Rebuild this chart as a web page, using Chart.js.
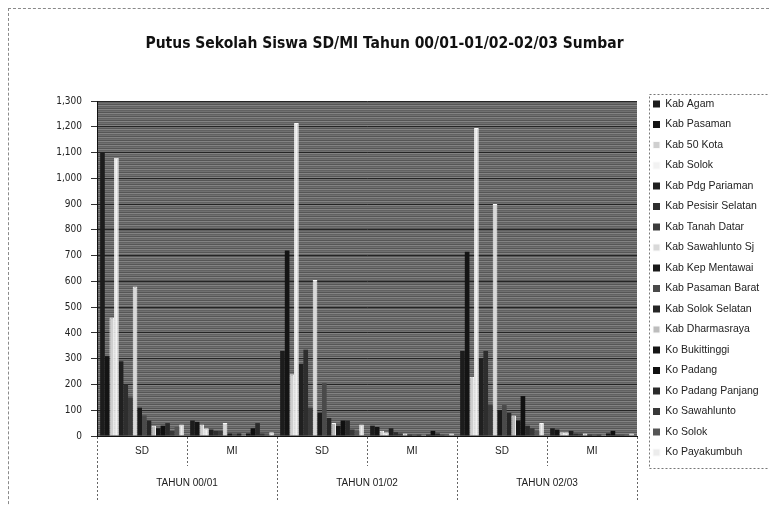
<!DOCTYPE html>
<html>
<head>
<meta charset="utf-8">
<script src="https://cdn.jsdelivr.net/npm/chart.js@4.4.1/dist/chart.umd.min.js"></script>
<style>
  html, body { margin: 0; padding: 0; background: #fff; overflow: hidden; }
  #wrap { position: relative; width: 769px; height: 505px; }
  #frame { position: absolute; left: 8px; top: 8px; width: 780px; height: 520px;
           border-left: 1px dashed #8a8a8a; border-top: 1px dashed #8a8a8a; pointer-events: none; }
  canvas { display: block; }
</style>
</head>
<body>
<div id="wrap">
  <canvas id="chart" width="769" height="505"></canvas>
  <div id="frame"></div>
</div>
<script>
// kategori sumbu x (jenjang) dan kelompok tahun
const categories = ['SD', 'MI', 'SD', 'MI', 'SD', 'MI'];
const yearLabels = ['TAHUN 00/01', 'TAHUN 01/02', 'TAHUN 02/03'];
const yTicks = [0, 100, 200, 300, 400, 500, 600, 700, 800, 900, 1000, 1100, 1200, 1300];

const seriesNames = [
    'Kab Agam', 'Kab Pasaman', 'Kab 50 Kota', 'Kab Solok', 'Kab Pdg Pariaman',
    'Kab Pesisir Selatan', 'Kab Tanah Datar', 'Kab Sawahlunto Sj', 'Kab Kep Mentawai',
    'Kab Pasaman Barat', 'Kab Solok Selatan', 'Kab Dharmasraya', 'Ko Bukittinggi',
    'Ko Padang', 'Ko Padang Panjang', 'Ko Sawahlunto', 'Ko Solok', 'Ko Payakumbuh'
];

// nilai per kategori: SD 00/01, MI 00/01, SD 01/02, MI 01/02, SD 02/03, MI 02/03
const kabAgam          = [1100, 60, 330, 40, 330, 30];
const kabPasaman       = [310, 55, 720, 35, 715, 25];
const kab50Kota        = [460, 45, 240, 20, 230, 15];
const kabSolok         = [1080, 30, 1215, 15, 1195, 15];
const kabPdgPariaman   = [290, 25, 280, 30, 300, 20];
const kabPesisirSel    = [200, 20, 335, 15, 330, 10];
const kabTanahDatar    = [150, 20, 110, 10, 120, 10];
const kabSawahluntoSj  = [580, 50, 605, 10, 900, 10];
const kabKepMentawai   = [110, 10, 90, 5, 100, 5];
const kabPasamanBarat  = [80, 10, 205, 5, 120, 5];
const kabSolokSelatan  = [60, 10, 70, 5, 90, 5];
const kabDharmasraya   = [40, 5, 50, 5, 80, 5];
const koBukittinggi    = [30, 10, 40, 5, 60, 10];
const koPadang         = [40, 30, 60, 20, 155, 20];
const koPadangPanjang  = [50, 50, 60, 10, 40, 5];
const koSawahlunto     = [20, 10, 25, 5, 30, 5];
const koSolok          = [35, 10, 20, 5, 20, 5];
const koPayakumbuh     = [45, 15, 45, 10, 50, 10];

const seriesValues = [
    kabAgam, kabPasaman, kab50Kota, kabSolok, kabPdgPariaman, kabPesisirSel,
    kabTanahDatar, kabSawahluntoSj, kabKepMentawai, kabPasamanBarat, kabSolokSelatan,
    kabDharmasraya, koBukittinggi, koPadang, koPadangPanjang, koSawahlunto, koSolok, koPayakumbuh
];

const seriesColors = [
    '#1c1c1c', '#141414', '#cfcfcf', '#f2f2f2', '#202020', '#2e2e2e',
    '#3c3c3c', '#d9d9d9', '#1a1a1a', '#4a4a4a', '#262626', '#bdbdbd',
    '#151515', '#101010', '#2a2a2a', '#383838', '#555555', '#ececec'
];
const lightSeries = [2, 3, 7, 11, 17];

const fontNarrow = "'Liberation Sans Narrow', 'Arial Narrow', 'DejaVu Sans Condensed', sans-serif";
const fontNormal = "'Liberation Sans', Arial, sans-serif";

function stripePattern(ctx) {
    const c = document.createElement('canvas');
    c.width = 4; c.height = 4;
    const p = c.getContext('2d');
    const rows = ['#565656', '#838383', '#626262', '#707070'];
    rows.forEach((col, i) => { p.fillStyle = col; p.fillRect(0, i, 4, 1); });
    return ctx.createPattern(c, 'repeat');
}

const plotBackground = {
    id: 'plotBackground',
    beforeDraw(chart) {
        const { ctx, chartArea: a } = chart;
        ctx.save();
        ctx.fillStyle = stripePattern(ctx);
        ctx.fillRect(a.left, a.top, a.right - a.left, a.bottom - a.top);
        ctx.restore();
    }
};

// lebar legenda tetap, sedikit digeser ke kanan, dengan bingkai putus-putus
const legendBox = {
    id: 'legendBox',
    afterInit(chart) {
        const legend = chart.legend;
        const fit = legend.fit;
        legend.fit = function () {
            fit.call(this);
            this.width = 132;
        };
    },
    afterLayout(chart) {
        chart.legend.left += 6;
        chart.legend.right += 6;
    },
    afterDraw(chart) {
        const { ctx, legend } = chart;
        ctx.save();
        ctx.strokeStyle = '#777';
        ctx.lineWidth = 1;
        ctx.setLineDash([2, 2]);
        ctx.strokeRect(Math.round(legend.left + 6) + 0.5, 94.5, 200, 374);
        ctx.restore();
    }
};

const datasets = seriesNames.map((name, i) => {
    const light = lightSeries.includes(i);
    return {
        label: name,
        data: seriesValues[i],
        backgroundColor: seriesColors[i],
        borderColor: light ? '#fafafa' : seriesColors[i],
        borderWidth: light ? 1 : 0,
        categoryPercentage: 0.93,
        barPercentage: 1.0
    };
});

new Chart(document.getElementById('chart'), {
    type: 'bar',
    data: { labels: categories, datasets: datasets },
    options: {
        responsive: false,
        animation: false,
        layout: { padding: 0 },
        plugins: {
            title: {
                display: true,
                text: 'Putus Sekolah Siswa SD/MI Tahun 00/01-01/02-02/03 Sumbar',
                color: '#111',
                font: { family: fontNarrow, size: 15.5, weight: 'bold', lineHeight: 1.2 },
                padding: { top: 34.7, bottom: 47.7 }
            },
            legend: {
                position: 'right',
                align: 'start',
                title: { display: true, text: '', font: { size: 10, lineHeight: 1 }, padding: { top: 0, bottom: 78.75 } },
                labels: {
                    boxWidth: 7,
                    boxHeight: 7,
                    padding: 10,
                    color: '#222',
                    font: { family: fontNormal, size: 10.5 }
                }
            },
            tooltip: { enabled: false }
        },
        scales: {
            x: {
                offset: true,
                grid: {
                    offset: true,
                    drawOnChartArea: false,
                    drawTicks: true,
                    tickLength: 30,
                    tickColor: '#666',
                    tickBorderDash: [2, 2]
                },
                border: { display: true, color: '#111', width: 1 },
                ticks: { color: '#222', padding: -21, font: { family: fontNormal, size: 10 } },
                afterFit(s) { s.height = 30; }
            },
            x2: {
                type: 'category',
                position: 'bottom',
                labels: yearLabels,
                offset: true,
                grid: {
                    offset: true,
                    drawOnChartArea: false,
                    drawTicks: true,
                    tickLength: 34,
                    tickColor: '#666',
                    tickBorderDash: [2, 2]
                },
                border: { display: false },
                ticks: { color: '#222', padding: -23, font: { family: fontNormal, size: 10 } },
                afterFit(s) { s.height = 39; }
            },
            y: {
                min: yTicks[0],
                max: yTicks[yTicks.length - 1],
                afterBuildTicks(s) { s.ticks = yTicks.map(v => ({ value: v })); },
                grid: { color: '#252525', tickLength: 6, tickColor: '#333' },
                border: { display: true, color: '#111' },
                ticks: {
                    color: '#222',
                    padding: 9,
                    font: { family: fontNarrow, size: 10 },
                    callback: v => v.toLocaleString('en-US')
                },
                afterFit(s) { s.width = 97; }
            }
        }
    },
    plugins: [plotBackground, legendBox]
});
</script>
</body>
</html>
